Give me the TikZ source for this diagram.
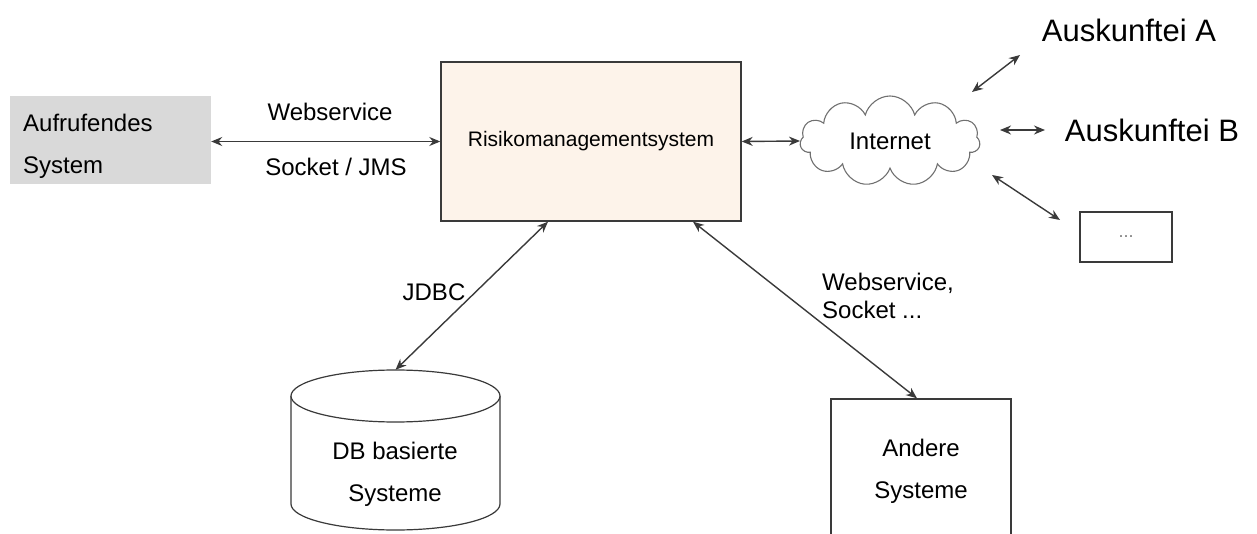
\documentclass[tikz,border=0pt]{standalone}
\usepackage{fontspec}
\setmainfont{Liberation Sans}
\usetikzlibrary{arrows.meta,shapes.symbols}
\definecolor{lc}{HTML}{3A3A3A}
\definecolor{grayfill}{HTML}{D9D9D9}
\definecolor{peach}{HTML}{FDF3EA}
\definecolor{cloudline}{HTML}{707070}
\begin{document}
\begin{tikzpicture}[x=1pt,y=-1pt,
  conn/.style={draw=lc, line width=1.4pt, {Stealth[length=11pt,width=9pt]}-{Stealth[length=11pt,width=9pt]}},
  txt/.style={font=\fontsize{24}{28}\selectfont, inner sep=0pt},
  twoline/.style={font=\fontsize{24}{42}\selectfont, inner sep=0pt},
  big/.style={font=\fontsize{31}{36}\selectfont, inner sep=0pt},
  boxline/.style={draw=lc, line width=1.4pt}]
\useasboundingbox (0,0) rectangle (1257,534);
\clip (0,0) rectangle (1257,534);

% caller
\node[fill=grayfill, minimum width=201, minimum height=88, inner sep=0pt] (caller) at (110.5,140) {};
\node[twoline, anchor=west, align=left] (callertext) at (23,146) {Aufrufendes\\System};

% central system
\node[boxline, fill=peach, minimum width=300, minimum height=159, inner sep=0pt,
      font=\fontsize{21}{25}\selectfont] (risk) at (591,141.5) {Risikomanagementsystem};

\node[txt] (ws1) at (330,112) {Webservice};
\node[txt] (ws2) at (336,167) {Socket / JMS};
\draw[conn] (caller.east |- risk.west) -- (risk.west);

% internet
\node[cloud, draw=cloudline, line width=1.1pt, cloud puffs=11, aspect=2.1,
      minimum width=180, minimum height=90, inner sep=0pt,
      font=\fontsize{24}{28}\selectfont] (internet) at (890,141) {Internet};
\draw[conn] (risk.east) -- (internet.west);

% Auskunfteien
\node[big] (ausA) at (1129,30) {Auskunftei A};
\node[big] (ausB) at (1152,130) {Auskunftei B};
\node[draw=lc, line width=1.1pt, minimum width=92, minimum height=50, inner sep=0pt,
      font=\fontsize{18}{20}\selectfont, text=gray] (more) at (1126,237) {...};

\coordinate (a1) at (972,92);   \coordinate (a2) at (1020,55);
\coordinate (b1) at (1000,130); \coordinate (b2) at (1045,130);
\coordinate (c1) at (992,175);  \coordinate (c2) at (1060,220);
\draw[conn] (a1) -- (a2);
\draw[conn] (b1) -- (b2);
\draw[conn] (c1) -- (c2);

% database cylinder
\draw[draw=lc, line width=1.2pt, fill=white] (291,396) -- (291,504)
  arc[start angle=180, end angle=360, x radius=104.5pt, y radius=26pt] -- (500,396);
\draw[draw=lc, line width=1.2pt, fill=white] (395.5,396) ellipse[x radius=104.5pt, y radius=26pt];
\node[minimum width=209, minimum height=160, inner sep=0pt] (db) at (395.5,450) {};
\node[twoline, align=center] (dbtext) at (395,474) {DB basierte\\Systeme};

% other systems
\node[boxline, minimum width=180, minimum height=144, inner sep=0pt, twoline, align=center] (andere) at (921,471) {Andere\\Systeme};

% lower connectors
\draw[conn] ([xshift=-43pt]risk.south) -- (db.north);
\draw[conn] ([xshift=102pt]risk.south) -- ([xshift=-4pt]andere.north);
\node[txt] (jdbc) at (434,292) {JDBC};
\node[txt, anchor=west, align=left] (wsl) at (822,296) {Webservice,\\Socket ...};
\end{tikzpicture}
\end{document}
